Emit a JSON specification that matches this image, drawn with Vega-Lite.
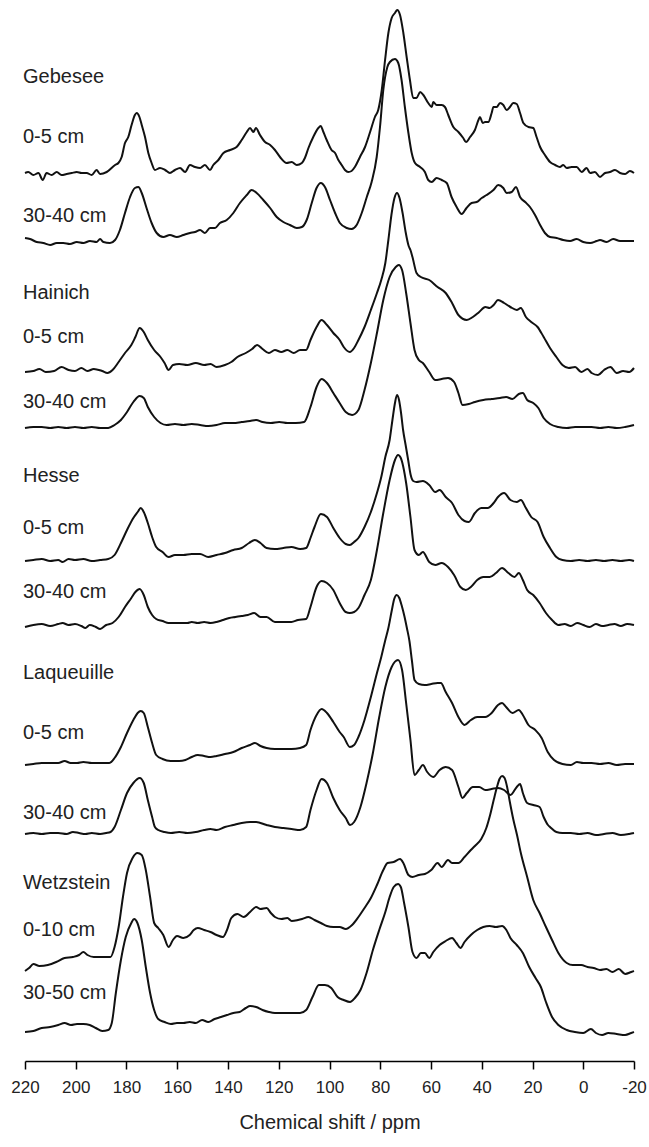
{
"$schema": "https://vega.github.io/schema/vega-lite/v6.json",
"width": 609, "height": 1061,
"autosize": {"type": "none"},
"padding": {"left": 25, "top": 0, "right": 15, "bottom": 86},
"config": {"view": {"stroke": null}, "font": "Liberation Sans"},
"datasets": {
"spectra": [
{"spectrum":"G1","ppm":220,"signal":888},{"spectrum":"G1","ppm":218.7,"signal":889},{"spectrum":"G1","ppm":216.7,"signal":886},{"spectrum":"G1","ppm":214.7,"signal":888},{"spectrum":"G1","ppm":213,"signal":881},{"spectrum":"G1","ppm":211.5,"signal":888},{"spectrum":"G1","ppm":209.5,"signal":886},{"spectrum":"G1","ppm":207.5,"signal":889},{"spectrum":"G1","ppm":205.6,"signal":886},{"spectrum":"G1","ppm":203.6,"signal":887},{"spectrum":"G1","ppm":201.6,"signal":888},{"spectrum":"G1","ppm":199.6,"signal":889},{"spectrum":"G1","ppm":197.7,"signal":888},{"spectrum":"G1","ppm":195.7,"signal":888},{"spectrum":"G1","ppm":193.7,"signal":886},{"spectrum":"G1","ppm":191.8,"signal":891},{"spectrum":"G1","ppm":190.4,"signal":887},{"spectrum":"G1","ppm":187.8,"signal":889},{"spectrum":"G1","ppm":184.5,"signal":896},{"spectrum":"G1","ppm":183.2,"signal":898},{"spectrum":"G1","ppm":181.9,"signal":904},{"spectrum":"G1","ppm":180.6,"signal":918},{"spectrum":"G1","ppm":179.3,"signal":924},{"spectrum":"G1","ppm":178,"signal":936},{"spectrum":"G1","ppm":176.7,"signal":946},{"spectrum":"G1","ppm":176,"signal":948},{"spectrum":"G1","ppm":174.9,"signal":944},{"spectrum":"G1","ppm":174,"signal":936},{"spectrum":"G1","ppm":172.7,"signal":924},{"spectrum":"G1","ppm":171.4,"signal":908},{"spectrum":"G1","ppm":170.1,"signal":898},{"spectrum":"G1","ppm":168.8,"signal":891},{"spectrum":"G1","ppm":166.8,"signal":893},{"spectrum":"G1","ppm":164.8,"signal":891},{"spectrum":"G1","ppm":162.9,"signal":888},{"spectrum":"G1","ppm":160.9,"signal":891},{"spectrum":"G1","ppm":158.9,"signal":893},{"spectrum":"G1","ppm":156.9,"signal":889},{"spectrum":"G1","ppm":155,"signal":896},{"spectrum":"G1","ppm":153,"signal":894},{"spectrum":"G1","ppm":151,"signal":893},{"spectrum":"G1","ppm":149.1,"signal":896},{"spectrum":"G1","ppm":147.1,"signal":891},{"spectrum":"G1","ppm":145.8,"signal":896},{"spectrum":"G1","ppm":143.8,"signal":901},{"spectrum":"G1","ppm":141.8,"signal":908},{"spectrum":"G1","ppm":139.2,"signal":911},{"spectrum":"G1","ppm":136.6,"signal":914},{"spectrum":"G1","ppm":134.6,"signal":921},{"spectrum":"G1","ppm":132.6,"signal":929},{"spectrum":"G1","ppm":131.3,"signal":933},{"spectrum":"G1","ppm":130,"signal":929},{"spectrum":"G1","ppm":129,"signal":933},{"spectrum":"G1","ppm":127.4,"signal":926},{"spectrum":"G1","ppm":125.4,"signal":919},{"spectrum":"G1","ppm":123.4,"signal":916},{"spectrum":"G1","ppm":121.5,"signal":911},{"spectrum":"G1","ppm":119.5,"signal":904},{"spectrum":"G1","ppm":116.9,"signal":898},{"spectrum":"G1","ppm":114.9,"signal":899},{"spectrum":"G1","ppm":112.9,"signal":896},{"spectrum":"G1","ppm":110.9,"signal":898},{"spectrum":"G1","ppm":109.7,"signal":903},{"spectrum":"G1","ppm":108.3,"signal":913},{"spectrum":"G1","ppm":106.4,"signal":924},{"spectrum":"G1","ppm":104.4,"signal":933},{"spectrum":"G1","ppm":103.5,"signal":935},{"spectrum":"G1","ppm":102.4,"signal":929},{"spectrum":"G1","ppm":101.1,"signal":921},{"spectrum":"G1","ppm":99.2,"signal":911},{"spectrum":"G1","ppm":97.8,"signal":908},{"spectrum":"G1","ppm":96.5,"signal":901},{"spectrum":"G1","ppm":95.2,"signal":896},{"spectrum":"G1","ppm":93.9,"signal":891},{"spectrum":"G1","ppm":92.6,"signal":889},{"spectrum":"G1","ppm":91.3,"signal":890},{"spectrum":"G1","ppm":90,"signal":894},{"spectrum":"G1","ppm":88,"signal":904},{"spectrum":"G1","ppm":86,"signal":914},{"spectrum":"G1","ppm":84,"signal":929},{"spectrum":"G1","ppm":82.1,"signal":944},{"spectrum":"G1","ppm":80.8,"signal":951},{"spectrum":"G1","ppm":79.4,"signal":971},{"spectrum":"G1","ppm":78.1,"signal":1001},{"spectrum":"G1","ppm":76.8,"signal":1028},{"spectrum":"G1","ppm":75.5,"signal":1043},{"spectrum":"G1","ppm":74.2,"signal":1048},{"spectrum":"G1","ppm":73.3,"signal":1051},{"spectrum":"G1","ppm":72.2,"signal":1046},{"spectrum":"G1","ppm":70.9,"signal":1028},{"spectrum":"G1","ppm":69.6,"signal":1004},{"spectrum":"G1","ppm":68.3,"signal":981},{"spectrum":"G1","ppm":67,"signal":963},{"spectrum":"G1","ppm":65.7,"signal":963},{"spectrum":"G1","ppm":64.3,"signal":969},{"spectrum":"G1","ppm":63,"signal":966},{"spectrum":"G1","ppm":61.1,"signal":958},{"spectrum":"G1","ppm":59.7,"signal":954},{"spectrum":"G1","ppm":59.1,"signal":959},{"spectrum":"G1","ppm":57.8,"signal":956},{"spectrum":"G1","ppm":55.8,"signal":956},{"spectrum":"G1","ppm":54.5,"signal":954},{"spectrum":"G1","ppm":53.2,"signal":946},{"spectrum":"G1","ppm":51.2,"signal":934},{"spectrum":"G1","ppm":49.2,"signal":929},{"spectrum":"G1","ppm":47.3,"signal":923},{"spectrum":"G1","ppm":46.2,"signal":919},{"spectrum":"G1","ppm":44.6,"signal":924},{"spectrum":"G1","ppm":42.7,"signal":931},{"spectrum":"G1","ppm":41.3,"signal":941},{"spectrum":"G1","ppm":40.7,"signal":944},{"spectrum":"G1","ppm":39.6,"signal":938},{"spectrum":"G1","ppm":38.7,"signal":939},{"spectrum":"G1","ppm":37.4,"signal":939},{"spectrum":"G1","ppm":36.1,"signal":948},{"spectrum":"G1","ppm":35.4,"signal":954},{"spectrum":"G1","ppm":34.1,"signal":954},{"spectrum":"G1","ppm":32.8,"signal":958},{"spectrum":"G1","ppm":31.5,"signal":956},{"spectrum":"G1","ppm":30.2,"signal":951},{"spectrum":"G1","ppm":28.9,"signal":954},{"spectrum":"G1","ppm":27.6,"signal":958},{"spectrum":"G1","ppm":26.2,"signal":957},{"spectrum":"G1","ppm":24.9,"signal":948},{"spectrum":"G1","ppm":23.6,"signal":938},{"spectrum":"G1","ppm":21.6,"signal":934},{"spectrum":"G1","ppm":19.7,"signal":933},{"spectrum":"G1","ppm":18.4,"signal":924},{"spectrum":"G1","ppm":17,"signal":914},{"spectrum":"G1","ppm":15.1,"signal":906},{"spectrum":"G1","ppm":13.1,"signal":899},{"spectrum":"G1","ppm":11.1,"signal":896},{"spectrum":"G1","ppm":9.2,"signal":894},{"spectrum":"G1","ppm":7.9,"signal":896},{"spectrum":"G1","ppm":6.5,"signal":893},{"spectrum":"G1","ppm":4.6,"signal":894},{"spectrum":"G1","ppm":2.6,"signal":894},{"spectrum":"G1","ppm":0.6,"signal":889},{"spectrum":"G1","ppm":-1.3,"signal":893},{"spectrum":"G1","ppm":-2.7,"signal":888},{"spectrum":"G1","ppm":-4.6,"signal":889},{"spectrum":"G1","ppm":-6.6,"signal":884},{"spectrum":"G1","ppm":-8.6,"signal":888},{"spectrum":"G1","ppm":-10.5,"signal":889},{"spectrum":"G1","ppm":-12.5,"signal":891},{"spectrum":"G1","ppm":-14.5,"signal":888},{"spectrum":"G1","ppm":-16.5,"signal":887},{"spectrum":"G1","ppm":-18.4,"signal":890},{"spectrum":"G1","ppm":-20,"signal":888},
{"spectrum":"G2","ppm":220,"signal":823},{"spectrum":"G2","ppm":218,"signal":822},{"spectrum":"G2","ppm":215.4,"signal":819},{"spectrum":"G2","ppm":212.8,"signal":818},{"spectrum":"G2","ppm":210.1,"signal":816},{"spectrum":"G2","ppm":207.5,"signal":818},{"spectrum":"G2","ppm":204.9,"signal":818},{"spectrum":"G2","ppm":202.3,"signal":817},{"spectrum":"G2","ppm":199.6,"signal":819},{"spectrum":"G2","ppm":197,"signal":818},{"spectrum":"G2","ppm":194.4,"signal":820},{"spectrum":"G2","ppm":191.8,"signal":819},{"spectrum":"G2","ppm":190.4,"signal":822},{"spectrum":"G2","ppm":189.1,"signal":819},{"spectrum":"G2","ppm":186.5,"signal":818},{"spectrum":"G2","ppm":184.5,"signal":821},{"spectrum":"G2","ppm":182.6,"signal":831},{"spectrum":"G2","ppm":180.6,"signal":848},{"spectrum":"G2","ppm":178.6,"signal":864},{"spectrum":"G2","ppm":176.7,"signal":873},{"spectrum":"G2","ppm":175.3,"signal":874},{"spectrum":"G2","ppm":174,"signal":868},{"spectrum":"G2","ppm":172.1,"signal":853},{"spectrum":"G2","ppm":170.1,"signal":838},{"spectrum":"G2","ppm":168.1,"signal":828},{"spectrum":"G2","ppm":165.5,"signal":824},{"spectrum":"G2","ppm":162.9,"signal":826},{"spectrum":"G2","ppm":160.2,"signal":824},{"spectrum":"G2","ppm":157.6,"signal":826},{"spectrum":"G2","ppm":155,"signal":828},{"spectrum":"G2","ppm":153,"signal":829},{"spectrum":"G2","ppm":151,"signal":831},{"spectrum":"G2","ppm":149.1,"signal":828},{"spectrum":"G2","ppm":147.1,"signal":833},{"spectrum":"G2","ppm":145.1,"signal":833},{"spectrum":"G2","ppm":143.2,"signal":838},{"spectrum":"G2","ppm":140.5,"signal":841},{"spectrum":"G2","ppm":137.9,"signal":848},{"spectrum":"G2","ppm":135.3,"signal":858},{"spectrum":"G2","ppm":132.6,"signal":866},{"spectrum":"G2","ppm":130.7,"signal":871},{"spectrum":"G2","ppm":128.7,"signal":868},{"spectrum":"G2","ppm":126.1,"signal":861},{"spectrum":"G2","ppm":123.4,"signal":853},{"spectrum":"G2","ppm":120.8,"signal":844},{"spectrum":"G2","ppm":118.2,"signal":839},{"spectrum":"G2","ppm":115.6,"signal":836},{"spectrum":"G2","ppm":112.9,"signal":833},{"spectrum":"G2","ppm":110.9,"signal":834},{"spectrum":"G2","ppm":109,"signal":841},{"spectrum":"G2","ppm":107,"signal":858},{"spectrum":"G2","ppm":105.1,"signal":873},{"spectrum":"G2","ppm":103.4,"signal":878},{"spectrum":"G2","ppm":101.8,"signal":874},{"spectrum":"G2","ppm":99.8,"signal":861},{"spectrum":"G2","ppm":97.8,"signal":848},{"spectrum":"G2","ppm":95.9,"signal":838},{"spectrum":"G2","ppm":93.2,"signal":833},{"spectrum":"G2","ppm":91.3,"signal":832},{"spectrum":"G2","ppm":89.3,"signal":836},{"spectrum":"G2","ppm":87.3,"signal":848},{"spectrum":"G2","ppm":85.3,"signal":864},{"spectrum":"G2","ppm":83.4,"signal":879},{"spectrum":"G2","ppm":81.4,"signal":904},{"spectrum":"G2","ppm":80.1,"signal":934},{"spectrum":"G2","ppm":78.8,"signal":971},{"spectrum":"G2","ppm":77.2,"signal":994},{"spectrum":"G2","ppm":76.2,"signal":999},{"spectrum":"G2","ppm":74.2,"signal":1002},{"spectrum":"G2","ppm":72.9,"signal":998},{"spectrum":"G2","ppm":71.6,"signal":981},{"spectrum":"G2","ppm":70.3,"signal":954},{"spectrum":"G2","ppm":68.9,"signal":928},{"spectrum":"G2","ppm":67.6,"signal":908},{"spectrum":"G2","ppm":66.3,"signal":898},{"spectrum":"G2","ppm":64.3,"signal":894},{"spectrum":"G2","ppm":62.4,"signal":889},{"spectrum":"G2","ppm":61.1,"signal":881},{"spectrum":"G2","ppm":59.7,"signal":879},{"spectrum":"G2","ppm":57.8,"signal":883},{"spectrum":"G2","ppm":55.8,"signal":881},{"spectrum":"G2","ppm":53.8,"signal":878},{"spectrum":"G2","ppm":51.9,"signal":864},{"spectrum":"G2","ppm":49.9,"signal":854},{"spectrum":"G2","ppm":47.9,"signal":847},{"spectrum":"G2","ppm":46,"signal":853},{"spectrum":"G2","ppm":44,"signal":858},{"spectrum":"G2","ppm":42,"signal":859},{"spectrum":"G2","ppm":40,"signal":863},{"spectrum":"G2","ppm":38.1,"signal":866},{"spectrum":"G2","ppm":35.4,"signal":871},{"spectrum":"G2","ppm":33.5,"signal":876},{"spectrum":"G2","ppm":31.5,"signal":873},{"spectrum":"G2","ppm":30.2,"signal":868},{"spectrum":"G2","ppm":28.2,"signal":869},{"spectrum":"G2","ppm":26.5,"signal":874},{"spectrum":"G2","ppm":24.9,"signal":864},{"spectrum":"G2","ppm":22.9,"signal":859},{"spectrum":"G2","ppm":21,"signal":854},{"spectrum":"G2","ppm":19,"signal":846},{"spectrum":"G2","ppm":17,"signal":836},{"spectrum":"G2","ppm":15.1,"signal":828},{"spectrum":"G2","ppm":13.1,"signal":824},{"spectrum":"G2","ppm":10.5,"signal":823},{"spectrum":"G2","ppm":7.9,"signal":821},{"spectrum":"G2","ppm":5.2,"signal":820},{"spectrum":"G2","ppm":2.6,"signal":822},{"spectrum":"G2","ppm":0,"signal":819},{"spectrum":"G2","ppm":-2.7,"signal":818},{"spectrum":"G2","ppm":-5.3,"signal":820},{"spectrum":"G2","ppm":-6.6,"signal":821},{"spectrum":"G2","ppm":-9.2,"signal":819},{"spectrum":"G2","ppm":-11.8,"signal":822},{"spectrum":"G2","ppm":-14.5,"signal":820},{"spectrum":"G2","ppm":-17.1,"signal":820},{"spectrum":"G2","ppm":-20,"signal":820},
{"spectrum":"H1","ppm":220,"signal":689},{"spectrum":"H1","ppm":216.7,"signal":690},{"spectrum":"H1","ppm":214.3,"signal":692},{"spectrum":"H1","ppm":211.8,"signal":689},{"spectrum":"H1","ppm":208.5,"signal":690},{"spectrum":"H1","ppm":205.6,"signal":694},{"spectrum":"H1","ppm":202.8,"signal":691},{"spectrum":"H1","ppm":200.3,"signal":690},{"spectrum":"H1","ppm":197.8,"signal":693},{"spectrum":"H1","ppm":195.4,"signal":690},{"spectrum":"H1","ppm":192.9,"signal":692},{"spectrum":"H1","ppm":189.6,"signal":690},{"spectrum":"H1","ppm":187.5,"signal":688},{"spectrum":"H1","ppm":185.5,"signal":691},{"spectrum":"H1","ppm":183.1,"signal":699},{"spectrum":"H1","ppm":180.6,"signal":708},{"spectrum":"H1","ppm":178.1,"signal":716},{"spectrum":"H1","ppm":176.5,"signal":724},{"spectrum":"H1","ppm":174.8,"signal":733},{"spectrum":"H1","ppm":173.2,"signal":729},{"spectrum":"H1","ppm":171.6,"signal":721},{"spectrum":"H1","ppm":169.1,"signal":711},{"spectrum":"H1","ppm":166.6,"signal":704},{"spectrum":"H1","ppm":165,"signal":698},{"spectrum":"H1","ppm":163.4,"signal":691},{"spectrum":"H1","ppm":161.7,"signal":696},{"spectrum":"H1","ppm":159.2,"signal":697},{"spectrum":"H1","ppm":156,"signal":696},{"spectrum":"H1","ppm":152.7,"signal":698},{"spectrum":"H1","ppm":149.4,"signal":696},{"spectrum":"H1","ppm":146.9,"signal":697},{"spectrum":"H1","ppm":144.5,"signal":694},{"spectrum":"H1","ppm":141.2,"signal":696},{"spectrum":"H1","ppm":138.7,"signal":699},{"spectrum":"H1","ppm":136.3,"signal":704},{"spectrum":"H1","ppm":133,"signal":708},{"spectrum":"H1","ppm":130.5,"signal":712},{"spectrum":"H1","ppm":128.5,"signal":716},{"spectrum":"H1","ppm":126.4,"signal":712},{"spectrum":"H1","ppm":123.9,"signal":708},{"spectrum":"H1","ppm":121.5,"signal":711},{"spectrum":"H1","ppm":119,"signal":709},{"spectrum":"H1","ppm":116.6,"signal":711},{"spectrum":"H1","ppm":114.1,"signal":708},{"spectrum":"H1","ppm":111.6,"signal":711},{"spectrum":"H1","ppm":109.2,"signal":711},{"spectrum":"H1","ppm":107.5,"signal":721},{"spectrum":"H1","ppm":105.1,"signal":734},{"spectrum":"H1","ppm":103.1,"signal":741},{"spectrum":"H1","ppm":101,"signal":736},{"spectrum":"H1","ppm":98.5,"signal":728},{"spectrum":"H1","ppm":96,"signal":721},{"spectrum":"H1","ppm":94.4,"signal":714},{"spectrum":"H1","ppm":92,"signal":709},{"spectrum":"H1","ppm":90.3,"signal":713},{"spectrum":"H1","ppm":88.6,"signal":721},{"spectrum":"H1","ppm":86.2,"signal":734},{"spectrum":"H1","ppm":83.7,"signal":751},{"spectrum":"H1","ppm":81.3,"signal":768},{"spectrum":"H1","ppm":79.6,"signal":781},{"spectrum":"H1","ppm":78,"signal":798},{"spectrum":"H1","ppm":76.8,"signal":821},{"spectrum":"H1","ppm":75.6,"signal":846},{"spectrum":"H1","ppm":74.4,"signal":863},{"spectrum":"H1","ppm":73.4,"signal":868},{"spectrum":"H1","ppm":72.4,"signal":863},{"spectrum":"H1","ppm":71.2,"signal":848},{"spectrum":"H1","ppm":70,"signal":829},{"spectrum":"H1","ppm":68.8,"signal":815},{"spectrum":"H1","ppm":68.1,"signal":811},{"spectrum":"H1","ppm":67.3,"signal":804},{"spectrum":"H1","ppm":65.7,"signal":788},{"spectrum":"H1","ppm":64,"signal":784},{"spectrum":"H1","ppm":60.7,"signal":781},{"spectrum":"H1","ppm":57.4,"signal":774},{"spectrum":"H1","ppm":54.2,"signal":768},{"spectrum":"H1","ppm":51.7,"signal":758},{"spectrum":"H1","ppm":49.2,"signal":746},{"spectrum":"H1","ppm":45.9,"signal":741},{"spectrum":"H1","ppm":43.5,"signal":744},{"spectrum":"H1","ppm":41,"signal":749},{"spectrum":"H1","ppm":38.6,"signal":754},{"spectrum":"H1","ppm":36.9,"signal":753},{"spectrum":"H1","ppm":35.3,"signal":756},{"spectrum":"H1","ppm":33.6,"signal":761},{"spectrum":"H1","ppm":31.2,"signal":758},{"spectrum":"H1","ppm":28.7,"signal":754},{"spectrum":"H1","ppm":26.2,"signal":751},{"spectrum":"H1","ppm":24.6,"signal":753},{"spectrum":"H1","ppm":22.6,"signal":744},{"spectrum":"H1","ppm":20.5,"signal":739},{"spectrum":"H1","ppm":18,"signal":734},{"spectrum":"H1","ppm":15.6,"signal":724},{"spectrum":"H1","ppm":13.1,"signal":713},{"spectrum":"H1","ppm":10.6,"signal":704},{"spectrum":"H1","ppm":8.2,"signal":696},{"spectrum":"H1","ppm":5.7,"signal":693},{"spectrum":"H1","ppm":3.2,"signal":694},{"spectrum":"H1","ppm":0.8,"signal":689},{"spectrum":"H1","ppm":-1.7,"signal":692},{"spectrum":"H1","ppm":-3.3,"signal":688},{"spectrum":"H1","ppm":-5.8,"signal":686},{"spectrum":"H1","ppm":-8.2,"signal":691},{"spectrum":"H1","ppm":-10.7,"signal":694},{"spectrum":"H1","ppm":-13.2,"signal":688},{"spectrum":"H1","ppm":-15.7,"signal":690},{"spectrum":"H1","ppm":-18.1,"signal":689},{"spectrum":"H1","ppm":-20,"signal":693},
{"spectrum":"H2","ppm":220,"signal":633},{"spectrum":"H2","ppm":216.7,"signal":634},{"spectrum":"H2","ppm":213.4,"signal":634},{"spectrum":"H2","ppm":210.1,"signal":633},{"spectrum":"H2","ppm":206.9,"signal":634},{"spectrum":"H2","ppm":203.6,"signal":633},{"spectrum":"H2","ppm":200.3,"signal":634},{"spectrum":"H2","ppm":197,"signal":633},{"spectrum":"H2","ppm":193.7,"signal":634},{"spectrum":"H2","ppm":190.4,"signal":633},{"spectrum":"H2","ppm":187.2,"signal":633},{"spectrum":"H2","ppm":184.7,"signal":636},{"spectrum":"H2","ppm":182.2,"signal":641},{"spectrum":"H2","ppm":179.8,"signal":649},{"spectrum":"H2","ppm":177.3,"signal":659},{"spectrum":"H2","ppm":174.8,"signal":665},{"spectrum":"H2","ppm":173.2,"signal":663},{"spectrum":"H2","ppm":171.6,"signal":654},{"spectrum":"H2","ppm":169.1,"signal":644},{"spectrum":"H2","ppm":166.6,"signal":638},{"spectrum":"H2","ppm":164.2,"signal":636},{"spectrum":"H2","ppm":160.9,"signal":637},{"spectrum":"H2","ppm":157.6,"signal":636},{"spectrum":"H2","ppm":154.3,"signal":637},{"spectrum":"H2","ppm":151,"signal":636},{"spectrum":"H2","ppm":147.8,"signal":635},{"spectrum":"H2","ppm":144.5,"signal":636},{"spectrum":"H2","ppm":141.2,"signal":638},{"spectrum":"H2","ppm":137.9,"signal":638},{"spectrum":"H2","ppm":134.6,"signal":639},{"spectrum":"H2","ppm":131.3,"signal":640},{"spectrum":"H2","ppm":128.9,"signal":641},{"spectrum":"H2","ppm":126.4,"signal":639},{"spectrum":"H2","ppm":123.1,"signal":638},{"spectrum":"H2","ppm":119.8,"signal":639},{"spectrum":"H2","ppm":116.6,"signal":638},{"spectrum":"H2","ppm":113.3,"signal":638},{"spectrum":"H2","ppm":110,"signal":639},{"spectrum":"H2","ppm":107.5,"signal":654},{"spectrum":"H2","ppm":105.1,"signal":674},{"spectrum":"H2","ppm":103.1,"signal":682},{"spectrum":"H2","ppm":101,"signal":678},{"spectrum":"H2","ppm":98.5,"signal":668},{"spectrum":"H2","ppm":96,"signal":658},{"spectrum":"H2","ppm":93.6,"signal":649},{"spectrum":"H2","ppm":91.1,"signal":646},{"spectrum":"H2","ppm":88.6,"signal":651},{"spectrum":"H2","ppm":86.2,"signal":671},{"spectrum":"H2","ppm":83.7,"signal":698},{"spectrum":"H2","ppm":81.3,"signal":728},{"spectrum":"H2","ppm":78.8,"signal":761},{"spectrum":"H2","ppm":76.3,"signal":784},{"spectrum":"H2","ppm":73.9,"signal":794},{"spectrum":"H2","ppm":72.7,"signal":796},{"spectrum":"H2","ppm":71.4,"signal":791},{"spectrum":"H2","ppm":69.8,"signal":768},{"spectrum":"H2","ppm":68.1,"signal":738},{"spectrum":"H2","ppm":66.5,"signal":711},{"spectrum":"H2","ppm":64.8,"signal":701},{"spectrum":"H2","ppm":63.2,"signal":698},{"spectrum":"H2","ppm":60.7,"signal":689},{"spectrum":"H2","ppm":58.3,"signal":681},{"spectrum":"H2","ppm":55.8,"signal":682},{"spectrum":"H2","ppm":53.3,"signal":683},{"spectrum":"H2","ppm":50.9,"signal":679},{"spectrum":"H2","ppm":49.2,"signal":668},{"spectrum":"H2","ppm":47.6,"signal":656},{"spectrum":"H2","ppm":45.1,"signal":657},{"spectrum":"H2","ppm":42.7,"signal":659},{"spectrum":"H2","ppm":39.4,"signal":661},{"spectrum":"H2","ppm":36.1,"signal":662},{"spectrum":"H2","ppm":32.8,"signal":663},{"spectrum":"H2","ppm":30.4,"signal":664},{"spectrum":"H2","ppm":27.9,"signal":662},{"spectrum":"H2","ppm":25.4,"signal":667},{"spectrum":"H2","ppm":23.8,"signal":668},{"spectrum":"H2","ppm":22.1,"signal":661},{"spectrum":"H2","ppm":19.7,"signal":658},{"spectrum":"H2","ppm":17.7,"signal":653},{"spectrum":"H2","ppm":15.6,"signal":643},{"spectrum":"H2","ppm":13.1,"signal":637},{"spectrum":"H2","ppm":9.8,"signal":634},{"spectrum":"H2","ppm":6.5,"signal":633},{"spectrum":"H2","ppm":3.2,"signal":634},{"spectrum":"H2","ppm":0,"signal":634},{"spectrum":"H2","ppm":-3.3,"signal":634},{"spectrum":"H2","ppm":-6.6,"signal":633},{"spectrum":"H2","ppm":-9.9,"signal":634},{"spectrum":"H2","ppm":-13.2,"signal":633},{"spectrum":"H2","ppm":-16.5,"signal":634},{"spectrum":"H2","ppm":-20,"signal":636},
{"spectrum":"E1","ppm":220,"signal":500},{"spectrum":"E1","ppm":216.7,"signal":501},{"spectrum":"E1","ppm":213.4,"signal":502},{"spectrum":"E1","ppm":210.1,"signal":500},{"spectrum":"E1","ppm":206.9,"signal":501},{"spectrum":"E1","ppm":205.2,"signal":499},{"spectrum":"E1","ppm":202.8,"signal":502},{"spectrum":"E1","ppm":200.3,"signal":501},{"spectrum":"E1","ppm":197,"signal":502},{"spectrum":"E1","ppm":193.7,"signal":500},{"spectrum":"E1","ppm":190.4,"signal":501},{"spectrum":"E1","ppm":187.2,"signal":502},{"spectrum":"E1","ppm":184.7,"signal":506},{"spectrum":"E1","ppm":182.2,"signal":518},{"spectrum":"E1","ppm":179.8,"signal":531},{"spectrum":"E1","ppm":177.3,"signal":543},{"spectrum":"E1","ppm":175.6,"signal":549},{"spectrum":"E1","ppm":174.4,"signal":553},{"spectrum":"E1","ppm":173.2,"signal":549},{"spectrum":"E1","ppm":171.6,"signal":538},{"spectrum":"E1","ppm":169.9,"signal":524},{"spectrum":"E1","ppm":168.3,"signal":514},{"spectrum":"E1","ppm":165.8,"signal":509},{"spectrum":"E1","ppm":163.4,"signal":504},{"spectrum":"E1","ppm":160.9,"signal":506},{"spectrum":"E1","ppm":157.6,"signal":506},{"spectrum":"E1","ppm":154.3,"signal":507},{"spectrum":"E1","ppm":151,"signal":507},{"spectrum":"E1","ppm":147.8,"signal":504},{"spectrum":"E1","ppm":144.5,"signal":506},{"spectrum":"E1","ppm":141.2,"signal":508},{"spectrum":"E1","ppm":137.9,"signal":511},{"spectrum":"E1","ppm":134.6,"signal":513},{"spectrum":"E1","ppm":131.7,"signal":518},{"spectrum":"E1","ppm":129.4,"signal":521},{"spectrum":"E1","ppm":127.2,"signal":518},{"spectrum":"E1","ppm":124.8,"signal":513},{"spectrum":"E1","ppm":121.5,"signal":512},{"spectrum":"E1","ppm":118.2,"signal":513},{"spectrum":"E1","ppm":115,"signal":514},{"spectrum":"E1","ppm":111.6,"signal":512},{"spectrum":"E1","ppm":109.2,"signal":513},{"spectrum":"E1","ppm":107.5,"signal":523},{"spectrum":"E1","ppm":105.9,"signal":534},{"spectrum":"E1","ppm":103.4,"signal":547},{"spectrum":"E1","ppm":101,"signal":544},{"spectrum":"E1","ppm":98.5,"signal":533},{"spectrum":"E1","ppm":96,"signal":523},{"spectrum":"E1","ppm":93.6,"signal":517},{"spectrum":"E1","ppm":92,"signal":516},{"spectrum":"E1","ppm":90.3,"signal":519},{"spectrum":"E1","ppm":88.6,"signal":523},{"spectrum":"E1","ppm":86.2,"signal":534},{"spectrum":"E1","ppm":83.7,"signal":549},{"spectrum":"E1","ppm":81.3,"signal":568},{"spectrum":"E1","ppm":79.6,"signal":584},{"spectrum":"E1","ppm":78,"signal":604},{"spectrum":"E1","ppm":76.3,"signal":621},{"spectrum":"E1","ppm":75.2,"signal":641},{"spectrum":"E1","ppm":74.2,"signal":658},{"spectrum":"E1","ppm":73.4,"signal":666},{"spectrum":"E1","ppm":72.6,"signal":661},{"spectrum":"E1","ppm":71.8,"signal":648},{"spectrum":"E1","ppm":71,"signal":631},{"spectrum":"E1","ppm":70,"signal":616},{"spectrum":"E1","ppm":69,"signal":601},{"spectrum":"E1","ppm":68,"signal":586},{"spectrum":"E1","ppm":67,"signal":580},{"spectrum":"E1","ppm":65.7,"signal":579},{"spectrum":"E1","ppm":63.2,"signal":580},{"spectrum":"E1","ppm":60.7,"signal":576},{"spectrum":"E1","ppm":58.3,"signal":569},{"spectrum":"E1","ppm":56.6,"signal":571},{"spectrum":"E1","ppm":54.2,"signal":564},{"spectrum":"E1","ppm":51.7,"signal":558},{"spectrum":"E1","ppm":49.2,"signal":546},{"spectrum":"E1","ppm":46.8,"signal":540},{"spectrum":"E1","ppm":45.1,"signal":539},{"spectrum":"E1","ppm":42.7,"signal":548},{"spectrum":"E1","ppm":40.2,"signal":553},{"spectrum":"E1","ppm":37.7,"signal":553},{"spectrum":"E1","ppm":35.3,"signal":558},{"spectrum":"E1","ppm":33.6,"signal":564},{"spectrum":"E1","ppm":31.2,"signal":568},{"spectrum":"E1","ppm":28.7,"signal":561},{"spectrum":"E1","ppm":26.2,"signal":559},{"spectrum":"E1","ppm":24.6,"signal":561},{"spectrum":"E1","ppm":22.6,"signal":553},{"spectrum":"E1","ppm":20.5,"signal":544},{"spectrum":"E1","ppm":18,"signal":539},{"spectrum":"E1","ppm":15.6,"signal":524},{"spectrum":"E1","ppm":13.1,"signal":513},{"spectrum":"E1","ppm":10.6,"signal":504},{"spectrum":"E1","ppm":8.2,"signal":501},{"spectrum":"E1","ppm":4.9,"signal":500},{"spectrum":"E1","ppm":1.6,"signal":501},{"spectrum":"E1","ppm":-1.7,"signal":500},{"spectrum":"E1","ppm":-5,"signal":501},{"spectrum":"E1","ppm":-8.2,"signal":500},{"spectrum":"E1","ppm":-11.5,"signal":501},{"spectrum":"E1","ppm":-14.8,"signal":500},{"spectrum":"E1","ppm":-18.1,"signal":501},{"spectrum":"E1","ppm":-20,"signal":500},
{"spectrum":"E2","ppm":220,"signal":434},{"spectrum":"E2","ppm":216.7,"signal":436},{"spectrum":"E2","ppm":213.4,"signal":437},{"spectrum":"E2","ppm":210.1,"signal":435},{"spectrum":"E2","ppm":206.9,"signal":437},{"spectrum":"E2","ppm":205.2,"signal":438},{"spectrum":"E2","ppm":202.8,"signal":436},{"spectrum":"E2","ppm":200.3,"signal":437},{"spectrum":"E2","ppm":197.8,"signal":435},{"spectrum":"E2","ppm":196.2,"signal":433},{"spectrum":"E2","ppm":194.5,"signal":436},{"spectrum":"E2","ppm":192.1,"signal":434},{"spectrum":"E2","ppm":190.4,"signal":432},{"spectrum":"E2","ppm":188,"signal":436},{"spectrum":"E2","ppm":185.5,"signal":438},{"spectrum":"E2","ppm":183.1,"signal":444},{"spectrum":"E2","ppm":180.6,"signal":454},{"spectrum":"E2","ppm":178.1,"signal":463},{"spectrum":"E2","ppm":176.5,"signal":469},{"spectrum":"E2","ppm":174.8,"signal":472},{"spectrum":"E2","ppm":173.2,"signal":466},{"spectrum":"E2","ppm":171.6,"signal":454},{"spectrum":"E2","ppm":169.9,"signal":446},{"spectrum":"E2","ppm":168.3,"signal":442},{"spectrum":"E2","ppm":165.8,"signal":440},{"spectrum":"E2","ppm":163.4,"signal":438},{"spectrum":"E2","ppm":160.9,"signal":438},{"spectrum":"E2","ppm":158.4,"signal":438},{"spectrum":"E2","ppm":156,"signal":438},{"spectrum":"E2","ppm":154.3,"signal":439},{"spectrum":"E2","ppm":151.9,"signal":438},{"spectrum":"E2","ppm":149.4,"signal":439},{"spectrum":"E2","ppm":146.9,"signal":438},{"spectrum":"E2","ppm":144.5,"signal":439},{"spectrum":"E2","ppm":142,"signal":441},{"spectrum":"E2","ppm":139.5,"signal":443},{"spectrum":"E2","ppm":137.1,"signal":444},{"spectrum":"E2","ppm":134.6,"signal":445},{"spectrum":"E2","ppm":132.2,"signal":446},{"spectrum":"E2","ppm":129.7,"signal":448},{"spectrum":"E2","ppm":127.2,"signal":444},{"spectrum":"E2","ppm":124.8,"signal":444},{"spectrum":"E2","ppm":121.5,"signal":439},{"spectrum":"E2","ppm":118.2,"signal":439},{"spectrum":"E2","ppm":115,"signal":439},{"spectrum":"E2","ppm":112.4,"signal":441},{"spectrum":"E2","ppm":109.2,"signal":442},{"spectrum":"E2","ppm":107.5,"signal":454},{"spectrum":"E2","ppm":105.1,"signal":474},{"spectrum":"E2","ppm":103.1,"signal":480},{"spectrum":"E2","ppm":101,"signal":478},{"spectrum":"E2","ppm":98.5,"signal":471},{"spectrum":"E2","ppm":96,"signal":458},{"spectrum":"E2","ppm":93.6,"signal":449},{"spectrum":"E2","ppm":92,"signal":448},{"spectrum":"E2","ppm":90.3,"signal":449},{"spectrum":"E2","ppm":88.6,"signal":453},{"spectrum":"E2","ppm":86.2,"signal":466},{"spectrum":"E2","ppm":83.7,"signal":481},{"spectrum":"E2","ppm":81.3,"signal":511},{"spectrum":"E2","ppm":78.8,"signal":548},{"spectrum":"E2","ppm":76.3,"signal":581},{"spectrum":"E2","ppm":74.2,"signal":601},{"spectrum":"E2","ppm":73,"signal":606},{"spectrum":"E2","ppm":71.9,"signal":603},{"spectrum":"E2","ppm":69.8,"signal":578},{"spectrum":"E2","ppm":68.1,"signal":544},{"spectrum":"E2","ppm":66.5,"signal":511},{"spectrum":"E2","ppm":64.8,"signal":506},{"spectrum":"E2","ppm":63.2,"signal":509},{"spectrum":"E2","ppm":60.7,"signal":499},{"spectrum":"E2","ppm":58.3,"signal":496},{"spectrum":"E2","ppm":55.8,"signal":498},{"spectrum":"E2","ppm":53.3,"signal":494},{"spectrum":"E2","ppm":50.9,"signal":486},{"spectrum":"E2","ppm":48.4,"signal":474},{"spectrum":"E2","ppm":46.3,"signal":471},{"spectrum":"E2","ppm":44.3,"signal":474},{"spectrum":"E2","ppm":41.8,"signal":481},{"spectrum":"E2","ppm":39.4,"signal":484},{"spectrum":"E2","ppm":36.9,"signal":484},{"spectrum":"E2","ppm":34.4,"signal":488},{"spectrum":"E2","ppm":32,"signal":493},{"spectrum":"E2","ppm":29.5,"signal":488},{"spectrum":"E2","ppm":27.1,"signal":484},{"spectrum":"E2","ppm":25.4,"signal":488},{"spectrum":"E2","ppm":23.8,"signal":481},{"spectrum":"E2","ppm":22.1,"signal":471},{"spectrum":"E2","ppm":19.7,"signal":466},{"spectrum":"E2","ppm":17.2,"signal":458},{"spectrum":"E2","ppm":14.7,"signal":448},{"spectrum":"E2","ppm":12.3,"signal":441},{"spectrum":"E2","ppm":9.8,"signal":436},{"spectrum":"E2","ppm":7.4,"signal":437},{"spectrum":"E2","ppm":4.9,"signal":435},{"spectrum":"E2","ppm":2.4,"signal":438},{"spectrum":"E2","ppm":0,"signal":436},{"spectrum":"E2","ppm":-2.5,"signal":434},{"spectrum":"E2","ppm":-5,"signal":437},{"spectrum":"E2","ppm":-7.4,"signal":435},{"spectrum":"E2","ppm":-9.9,"signal":436},{"spectrum":"E2","ppm":-12.3,"signal":437},{"spectrum":"E2","ppm":-14.8,"signal":435},{"spectrum":"E2","ppm":-17.3,"signal":437},{"spectrum":"E2","ppm":-20,"signal":436},
{"spectrum":"L1","ppm":220,"signal":296},{"spectrum":"L1","ppm":216.7,"signal":297},{"spectrum":"L1","ppm":213.4,"signal":298},{"spectrum":"L1","ppm":210.1,"signal":298},{"spectrum":"L1","ppm":206.9,"signal":298},{"spectrum":"L1","ppm":204.4,"signal":300},{"spectrum":"L1","ppm":202,"signal":298},{"spectrum":"L1","ppm":199.5,"signal":298},{"spectrum":"L1","ppm":197,"signal":299},{"spectrum":"L1","ppm":193.7,"signal":298},{"spectrum":"L1","ppm":190.4,"signal":298},{"spectrum":"L1","ppm":186.8,"signal":298},{"spectrum":"L1","ppm":184.7,"signal":303},{"spectrum":"L1","ppm":182.2,"signal":314},{"spectrum":"L1","ppm":179.8,"signal":328},{"spectrum":"L1","ppm":177.3,"signal":341},{"spectrum":"L1","ppm":175.6,"signal":348},{"spectrum":"L1","ppm":174.4,"signal":350},{"spectrum":"L1","ppm":173.2,"signal":348},{"spectrum":"L1","ppm":171.6,"signal":334},{"spectrum":"L1","ppm":169.9,"signal":318},{"spectrum":"L1","ppm":168.3,"signal":306},{"spectrum":"L1","ppm":165.8,"signal":302},{"spectrum":"L1","ppm":162.6,"signal":300},{"spectrum":"L1","ppm":159.3,"signal":300},{"spectrum":"L1","ppm":156.8,"signal":301},{"spectrum":"L1","ppm":154.3,"signal":304},{"spectrum":"L1","ppm":151.9,"signal":306},{"spectrum":"L1","ppm":149.4,"signal":305},{"spectrum":"L1","ppm":146.9,"signal":304},{"spectrum":"L1","ppm":144.5,"signal":305},{"spectrum":"L1","ppm":141.2,"signal":307},{"spectrum":"L1","ppm":137.9,"signal":309},{"spectrum":"L1","ppm":134.6,"signal":313},{"spectrum":"L1","ppm":131.3,"signal":316},{"spectrum":"L1","ppm":129.4,"signal":318},{"spectrum":"L1","ppm":127.2,"signal":315},{"spectrum":"L1","ppm":124.8,"signal":313},{"spectrum":"L1","ppm":121.5,"signal":312},{"spectrum":"L1","ppm":118.2,"signal":312},{"spectrum":"L1","ppm":115,"signal":312},{"spectrum":"L1","ppm":111.6,"signal":313},{"spectrum":"L1","ppm":109.2,"signal":316},{"spectrum":"L1","ppm":107.5,"signal":331},{"spectrum":"L1","ppm":105.1,"signal":346},{"spectrum":"L1","ppm":103.1,"signal":352},{"spectrum":"L1","ppm":101,"signal":348},{"spectrum":"L1","ppm":98.5,"signal":339},{"spectrum":"L1","ppm":96,"signal":329},{"spectrum":"L1","ppm":94.4,"signal":324},{"spectrum":"L1","ppm":92,"signal":314},{"spectrum":"L1","ppm":90.3,"signal":316},{"spectrum":"L1","ppm":88.6,"signal":324},{"spectrum":"L1","ppm":86.2,"signal":341},{"spectrum":"L1","ppm":83.7,"signal":364},{"spectrum":"L1","ppm":81.3,"signal":388},{"spectrum":"L1","ppm":79.6,"signal":404},{"spectrum":"L1","ppm":78,"signal":421},{"spectrum":"L1","ppm":76.8,"signal":433},{"spectrum":"L1","ppm":75.5,"signal":450},{"spectrum":"L1","ppm":74.5,"signal":462},{"spectrum":"L1","ppm":73.5,"signal":466},{"spectrum":"L1","ppm":72.5,"signal":463},{"spectrum":"L1","ppm":71.5,"signal":455},{"spectrum":"L1","ppm":70.5,"signal":445},{"spectrum":"L1","ppm":69.5,"signal":433},{"spectrum":"L1","ppm":68.5,"signal":420},{"spectrum":"L1","ppm":67.5,"signal":400},{"spectrum":"L1","ppm":66.5,"signal":381},{"spectrum":"L1","ppm":64.8,"signal":377},{"spectrum":"L1","ppm":62.4,"signal":376},{"spectrum":"L1","ppm":59.9,"signal":377},{"spectrum":"L1","ppm":57.4,"signal":378},{"spectrum":"L1","ppm":56.1,"signal":378},{"spectrum":"L1","ppm":54.2,"signal":369},{"spectrum":"L1","ppm":51.7,"signal":358},{"spectrum":"L1","ppm":49.2,"signal":344},{"spectrum":"L1","ppm":46.8,"signal":336},{"spectrum":"L1","ppm":44.3,"signal":341},{"spectrum":"L1","ppm":41.8,"signal":344},{"spectrum":"L1","ppm":38.6,"signal":344},{"spectrum":"L1","ppm":36.1,"signal":348},{"spectrum":"L1","ppm":33.6,"signal":356},{"spectrum":"L1","ppm":32,"signal":358},{"spectrum":"L1","ppm":30.4,"signal":354},{"spectrum":"L1","ppm":27.9,"signal":348},{"spectrum":"L1","ppm":25.4,"signal":351},{"spectrum":"L1","ppm":23.8,"signal":346},{"spectrum":"L1","ppm":21.6,"signal":336},{"spectrum":"L1","ppm":18.9,"signal":331},{"spectrum":"L1","ppm":16.4,"signal":323},{"spectrum":"L1","ppm":14,"signal":309},{"spectrum":"L1","ppm":11.5,"signal":301},{"spectrum":"L1","ppm":8.2,"signal":297},{"spectrum":"L1","ppm":4.9,"signal":296},{"spectrum":"L1","ppm":2.5,"signal":299},{"spectrum":"L1","ppm":0,"signal":298},{"spectrum":"L1","ppm":-3.3,"signal":298},{"spectrum":"L1","ppm":-6.6,"signal":297},{"spectrum":"L1","ppm":-9.9,"signal":298},{"spectrum":"L1","ppm":-13.2,"signal":296},{"spectrum":"L1","ppm":-16.5,"signal":297},{"spectrum":"L1","ppm":-20,"signal":297},
{"spectrum":"L2","ppm":220,"signal":227},{"spectrum":"L2","ppm":216.7,"signal":228},{"spectrum":"L2","ppm":213.4,"signal":227},{"spectrum":"L2","ppm":210.1,"signal":228},{"spectrum":"L2","ppm":206.9,"signal":228},{"spectrum":"L2","ppm":203.6,"signal":227},{"spectrum":"L2","ppm":201.1,"signal":229},{"spectrum":"L2","ppm":198.7,"signal":228},{"spectrum":"L2","ppm":196.2,"signal":227},{"spectrum":"L2","ppm":193.7,"signal":228},{"spectrum":"L2","ppm":190.4,"signal":227},{"spectrum":"L2","ppm":188,"signal":228},{"spectrum":"L2","ppm":186.3,"signal":229},{"spectrum":"L2","ppm":184.7,"signal":234},{"spectrum":"L2","ppm":182.2,"signal":251},{"spectrum":"L2","ppm":179.8,"signal":268},{"spectrum":"L2","ppm":177.3,"signal":278},{"spectrum":"L2","ppm":174.8,"signal":283},{"spectrum":"L2","ppm":173.2,"signal":278},{"spectrum":"L2","ppm":171.6,"signal":261},{"spectrum":"L2","ppm":169.9,"signal":244},{"spectrum":"L2","ppm":168.8,"signal":234},{"spectrum":"L2","ppm":167.5,"signal":231},{"spectrum":"L2","ppm":165,"signal":229},{"spectrum":"L2","ppm":162.5,"signal":228},{"spectrum":"L2","ppm":159.2,"signal":229},{"spectrum":"L2","ppm":156,"signal":228},{"spectrum":"L2","ppm":152.7,"signal":229},{"spectrum":"L2","ppm":149.4,"signal":231},{"spectrum":"L2","ppm":146.9,"signal":232},{"spectrum":"L2","ppm":144.5,"signal":231},{"spectrum":"L2","ppm":141.2,"signal":234},{"spectrum":"L2","ppm":137.9,"signal":236},{"spectrum":"L2","ppm":134.6,"signal":238},{"spectrum":"L2","ppm":131.3,"signal":239},{"spectrum":"L2","ppm":128.9,"signal":239},{"spectrum":"L2","ppm":124.8,"signal":236},{"spectrum":"L2","ppm":121.5,"signal":234},{"spectrum":"L2","ppm":118.2,"signal":233},{"spectrum":"L2","ppm":114.9,"signal":232},{"spectrum":"L2","ppm":111.6,"signal":231},{"spectrum":"L2","ppm":109.2,"signal":234},{"spectrum":"L2","ppm":107.5,"signal":251},{"spectrum":"L2","ppm":105.1,"signal":271},{"spectrum":"L2","ppm":103.1,"signal":282},{"spectrum":"L2","ppm":101,"signal":278},{"spectrum":"L2","ppm":98.5,"signal":263},{"spectrum":"L2","ppm":96,"signal":251},{"spectrum":"L2","ppm":93.6,"signal":243},{"spectrum":"L2","ppm":91.9,"signal":236},{"spectrum":"L2","ppm":90.3,"signal":239},{"spectrum":"L2","ppm":87.8,"signal":254},{"spectrum":"L2","ppm":85.4,"signal":278},{"spectrum":"L2","ppm":82.9,"signal":308},{"spectrum":"L2","ppm":80.4,"signal":344},{"spectrum":"L2","ppm":78,"signal":374},{"spectrum":"L2","ppm":75.5,"signal":394},{"spectrum":"L2","ppm":73,"signal":401},{"spectrum":"L2","ppm":71.4,"signal":391},{"spectrum":"L2","ppm":69.8,"signal":358},{"spectrum":"L2","ppm":68.1,"signal":321},{"spectrum":"L2","ppm":66.5,"signal":286},{"spectrum":"L2","ppm":64.8,"signal":291},{"spectrum":"L2","ppm":63.2,"signal":296},{"spectrum":"L2","ppm":61.5,"signal":289},{"spectrum":"L2","ppm":59.1,"signal":284},{"spectrum":"L2","ppm":56.6,"signal":291},{"spectrum":"L2","ppm":54.2,"signal":294},{"spectrum":"L2","ppm":51.7,"signal":291},{"spectrum":"L2","ppm":49.2,"signal":274},{"spectrum":"L2","ppm":47.6,"signal":263},{"spectrum":"L2","ppm":45.9,"signal":268},{"spectrum":"L2","ppm":43.5,"signal":274},{"spectrum":"L2","ppm":41,"signal":274},{"spectrum":"L2","ppm":38.6,"signal":271},{"spectrum":"L2","ppm":36.1,"signal":272},{"spectrum":"L2","ppm":33.6,"signal":273},{"spectrum":"L2","ppm":31.2,"signal":271},{"spectrum":"L2","ppm":28.7,"signal":266},{"spectrum":"L2","ppm":26.2,"signal":274},{"spectrum":"L2","ppm":24.9,"signal":277},{"spectrum":"L2","ppm":23.8,"signal":268},{"spectrum":"L2","ppm":22.1,"signal":258},{"spectrum":"L2","ppm":19.7,"signal":256},{"spectrum":"L2","ppm":17.2,"signal":254},{"spectrum":"L2","ppm":15.6,"signal":244},{"spectrum":"L2","ppm":13.9,"signal":236},{"spectrum":"L2","ppm":13.1,"signal":234},{"spectrum":"L2","ppm":10.6,"signal":229},{"spectrum":"L2","ppm":8.2,"signal":228},{"spectrum":"L2","ppm":4.9,"signal":228},{"spectrum":"L2","ppm":1.6,"signal":227},{"spectrum":"L2","ppm":-1.7,"signal":228},{"spectrum":"L2","ppm":-5,"signal":226},{"spectrum":"L2","ppm":-8.2,"signal":227},{"spectrum":"L2","ppm":-11.5,"signal":228},{"spectrum":"L2","ppm":-14.8,"signal":226},{"spectrum":"L2","ppm":-18.1,"signal":227},{"spectrum":"L2","ppm":-20,"signal":228},
{"spectrum":"W1","ppm":220,"signal":90},{"spectrum":"W1","ppm":218.4,"signal":93},{"spectrum":"W1","ppm":216.7,"signal":97},{"spectrum":"W1","ppm":214.3,"signal":95},{"spectrum":"W1","ppm":211,"signal":96},{"spectrum":"W1","ppm":207.7,"signal":99},{"spectrum":"W1","ppm":204.4,"signal":103},{"spectrum":"W1","ppm":201.1,"signal":104},{"spectrum":"W1","ppm":198.7,"signal":106},{"spectrum":"W1","ppm":197,"signal":109},{"spectrum":"W1","ppm":195.4,"signal":106},{"spectrum":"W1","ppm":192.9,"signal":104},{"spectrum":"W1","ppm":190.4,"signal":104},{"spectrum":"W1","ppm":188,"signal":104},{"spectrum":"W1","ppm":186.3,"signal":104},{"spectrum":"W1","ppm":184.7,"signal":114},{"spectrum":"W1","ppm":183.1,"signal":134},{"spectrum":"W1","ppm":181.4,"signal":164},{"spectrum":"W1","ppm":179.8,"signal":188},{"spectrum":"W1","ppm":177.6,"signal":203},{"spectrum":"W1","ppm":175.7,"signal":208},{"spectrum":"W1","ppm":174,"signal":206},{"spectrum":"W1","ppm":172.4,"signal":191},{"spectrum":"W1","ppm":170.7,"signal":164},{"spectrum":"W1","ppm":169.1,"signal":138},{"spectrum":"W1","ppm":167.5,"signal":133},{"spectrum":"W1","ppm":165.5,"signal":126},{"spectrum":"W1","ppm":163.4,"signal":114},{"spectrum":"W1","ppm":161.7,"signal":121},{"spectrum":"W1","ppm":160.1,"signal":125},{"spectrum":"W1","ppm":157.6,"signal":123},{"spectrum":"W1","ppm":155.1,"signal":126},{"spectrum":"W1","ppm":153.5,"signal":131},{"spectrum":"W1","ppm":151.9,"signal":133},{"spectrum":"W1","ppm":149.4,"signal":131},{"spectrum":"W1","ppm":146.9,"signal":129},{"spectrum":"W1","ppm":144.5,"signal":126},{"spectrum":"W1","ppm":142,"signal":124},{"spectrum":"W1","ppm":140.4,"signal":131},{"spectrum":"W1","ppm":138.7,"signal":143},{"spectrum":"W1","ppm":136.3,"signal":147},{"spectrum":"W1","ppm":133.8,"signal":144},{"spectrum":"W1","ppm":131.3,"signal":149},{"spectrum":"W1","ppm":128.9,"signal":154},{"spectrum":"W1","ppm":127.2,"signal":152},{"spectrum":"W1","ppm":124.8,"signal":153},{"spectrum":"W1","ppm":123.1,"signal":148},{"spectrum":"W1","ppm":121.5,"signal":144},{"spectrum":"W1","ppm":119,"signal":142},{"spectrum":"W1","ppm":116.6,"signal":143},{"spectrum":"W1","ppm":114.9,"signal":140},{"spectrum":"W1","ppm":112.4,"signal":141},{"spectrum":"W1","ppm":110.8,"signal":142},{"spectrum":"W1","ppm":108.3,"signal":144},{"spectrum":"W1","ppm":105.9,"signal":141},{"spectrum":"W1","ppm":103.4,"signal":138},{"spectrum":"W1","ppm":101,"signal":135},{"spectrum":"W1","ppm":98.5,"signal":134},{"spectrum":"W1","ppm":96,"signal":134},{"spectrum":"W1","ppm":93.6,"signal":132},{"spectrum":"W1","ppm":91.1,"signal":136},{"spectrum":"W1","ppm":88.6,"signal":144},{"spectrum":"W1","ppm":86.2,"signal":153},{"spectrum":"W1","ppm":83.7,"signal":163},{"spectrum":"W1","ppm":81.3,"signal":176},{"spectrum":"W1","ppm":78.8,"signal":191},{"spectrum":"W1","ppm":77.1,"signal":198},{"spectrum":"W1","ppm":74.7,"signal":199},{"spectrum":"W1","ppm":72.2,"signal":202},{"spectrum":"W1","ppm":70.9,"signal":198},{"spectrum":"W1","ppm":68.9,"signal":186},{"spectrum":"W1","ppm":67.3,"signal":184},{"spectrum":"W1","ppm":64.8,"signal":186},{"spectrum":"W1","ppm":62.4,"signal":187},{"spectrum":"W1","ppm":59.9,"signal":191},{"spectrum":"W1","ppm":57.4,"signal":198},{"spectrum":"W1","ppm":55.8,"signal":194},{"spectrum":"W1","ppm":53.3,"signal":201},{"spectrum":"W1","ppm":51.7,"signal":198},{"spectrum":"W1","ppm":49.2,"signal":198},{"spectrum":"W1","ppm":46.8,"signal":204},{"spectrum":"W1","ppm":44.3,"signal":211},{"spectrum":"W1","ppm":42.7,"signal":215},{"spectrum":"W1","ppm":40.2,"signal":222},{"spectrum":"W1","ppm":38.2,"signal":233},{"spectrum":"W1","ppm":36.6,"signal":247},{"spectrum":"W1","ppm":35.2,"signal":262},{"spectrum":"W1","ppm":34,"signal":274},{"spectrum":"W1","ppm":33,"signal":282},{"spectrum":"W1","ppm":32,"signal":285},{"spectrum":"W1","ppm":31,"signal":283},{"spectrum":"W1","ppm":30,"signal":274},{"spectrum":"W1","ppm":29,"signal":260},{"spectrum":"W1","ppm":27.6,"signal":242},{"spectrum":"W1","ppm":26.1,"signal":226},{"spectrum":"W1","ppm":24.6,"signal":208},{"spectrum":"W1","ppm":22.1,"signal":184},{"spectrum":"W1","ppm":19.7,"signal":161},{"spectrum":"W1","ppm":17.2,"signal":148},{"spectrum":"W1","ppm":14.7,"signal":134},{"spectrum":"W1","ppm":12.3,"signal":121},{"spectrum":"W1","ppm":9.8,"signal":108},{"spectrum":"W1","ppm":6.5,"signal":98},{"spectrum":"W1","ppm":4.1,"signal":96},{"spectrum":"W1","ppm":0.8,"signal":96},{"spectrum":"W1","ppm":-1.7,"signal":94},{"spectrum":"W1","ppm":-4.1,"signal":93},{"spectrum":"W1","ppm":-6.6,"signal":91},{"spectrum":"W1","ppm":-9.1,"signal":92},{"spectrum":"W1","ppm":-11.5,"signal":89},{"spectrum":"W1","ppm":-14,"signal":92},{"spectrum":"W1","ppm":-16.5,"signal":87},{"spectrum":"W1","ppm":-18.9,"signal":89},{"spectrum":"W1","ppm":-20,"signal":90},
{"spectrum":"W2","ppm":220,"signal":29},{"spectrum":"W2","ppm":216.7,"signal":30},{"spectrum":"W2","ppm":213.4,"signal":33},{"spectrum":"W2","ppm":210.1,"signal":34},{"spectrum":"W2","ppm":206.9,"signal":36},{"spectrum":"W2","ppm":204.4,"signal":38},{"spectrum":"W2","ppm":201.9,"signal":36},{"spectrum":"W2","ppm":199.5,"signal":37},{"spectrum":"W2","ppm":197,"signal":37},{"spectrum":"W2","ppm":194.5,"signal":36},{"spectrum":"W2","ppm":192.1,"signal":33},{"spectrum":"W2","ppm":189.6,"signal":30},{"spectrum":"W2","ppm":187.2,"signal":31},{"spectrum":"W2","ppm":185.8,"signal":38},{"spectrum":"W2","ppm":184.2,"signal":68},{"spectrum":"W2","ppm":182.2,"signal":101},{"spectrum":"W2","ppm":180.3,"signal":124},{"spectrum":"W2","ppm":178.1,"signal":138},{"spectrum":"W2","ppm":177,"signal":142},{"spectrum":"W2","ppm":175.7,"signal":138},{"spectrum":"W2","ppm":174,"signal":121},{"spectrum":"W2","ppm":172.4,"signal":94},{"spectrum":"W2","ppm":170.7,"signal":68},{"spectrum":"W2","ppm":169.1,"signal":51},{"spectrum":"W2","ppm":167.5,"signal":42},{"spectrum":"W2","ppm":165,"signal":39},{"spectrum":"W2","ppm":162.5,"signal":37},{"spectrum":"W2","ppm":160.1,"signal":38},{"spectrum":"W2","ppm":157.6,"signal":38},{"spectrum":"W2","ppm":155.1,"signal":39},{"spectrum":"W2","ppm":152.7,"signal":38},{"spectrum":"W2","ppm":150.2,"signal":41},{"spectrum":"W2","ppm":147.8,"signal":39},{"spectrum":"W2","ppm":145.3,"signal":42},{"spectrum":"W2","ppm":142.8,"signal":44},{"spectrum":"W2","ppm":140.4,"signal":46},{"spectrum":"W2","ppm":137.9,"signal":48},{"spectrum":"W2","ppm":135.4,"signal":49},{"spectrum":"W2","ppm":133,"signal":53},{"spectrum":"W2","ppm":131.3,"signal":55},{"spectrum":"W2","ppm":128.9,"signal":54},{"spectrum":"W2","ppm":126.4,"signal":51},{"spectrum":"W2","ppm":123.9,"signal":49},{"spectrum":"W2","ppm":121.5,"signal":48},{"spectrum":"W2","ppm":118.2,"signal":48},{"spectrum":"W2","ppm":114.9,"signal":48},{"spectrum":"W2","ppm":111.6,"signal":48},{"spectrum":"W2","ppm":109.2,"signal":51},{"spectrum":"W2","ppm":106.7,"signal":64},{"spectrum":"W2","ppm":104.2,"signal":76},{"spectrum":"W2","ppm":101.8,"signal":76},{"spectrum":"W2","ppm":99.3,"signal":73},{"spectrum":"W2","ppm":96.8,"signal":64},{"spectrum":"W2","ppm":94.4,"signal":61},{"spectrum":"W2","ppm":91.9,"signal":59},{"spectrum":"W2","ppm":90,"signal":63},{"spectrum":"W2","ppm":87.8,"signal":71},{"spectrum":"W2","ppm":85.4,"signal":88},{"spectrum":"W2","ppm":82.9,"signal":111},{"spectrum":"W2","ppm":80.4,"signal":131},{"spectrum":"W2","ppm":78,"signal":149},{"spectrum":"W2","ppm":76.3,"signal":164},{"spectrum":"W2","ppm":74.7,"signal":174},{"spectrum":"W2","ppm":73,"signal":177},{"spectrum":"W2","ppm":71.9,"signal":174},{"spectrum":"W2","ppm":70.6,"signal":158},{"spectrum":"W2","ppm":68.9,"signal":134},{"spectrum":"W2","ppm":67.3,"signal":109},{"spectrum":"W2","ppm":65.7,"signal":103},{"spectrum":"W2","ppm":64,"signal":108},{"spectrum":"W2","ppm":62.4,"signal":108},{"spectrum":"W2","ppm":60.7,"signal":103},{"spectrum":"W2","ppm":59.1,"signal":109},{"spectrum":"W2","ppm":56.6,"signal":116},{"spectrum":"W2","ppm":54.2,"signal":120},{"spectrum":"W2","ppm":51.7,"signal":123},{"spectrum":"W2","ppm":50,"signal":118},{"spectrum":"W2","ppm":48.4,"signal":113},{"spectrum":"W2","ppm":46.8,"signal":119},{"spectrum":"W2","ppm":44.3,"signal":126},{"spectrum":"W2","ppm":41.8,"signal":131},{"spectrum":"W2","ppm":39.4,"signal":134},{"spectrum":"W2","ppm":36.9,"signal":135},{"spectrum":"W2","ppm":34.4,"signal":134},{"spectrum":"W2","ppm":32,"signal":135},{"spectrum":"W2","ppm":30.3,"signal":131},{"spectrum":"W2","ppm":28.7,"signal":123},{"spectrum":"W2","ppm":26.2,"signal":116},{"spectrum":"W2","ppm":23.8,"signal":108},{"spectrum":"W2","ppm":21.3,"signal":94},{"spectrum":"W2","ppm":18.8,"signal":83},{"spectrum":"W2","ppm":16.7,"signal":74},{"spectrum":"W2","ppm":14.7,"signal":59},{"spectrum":"W2","ppm":12.3,"signal":44},{"spectrum":"W2","ppm":9.8,"signal":36},{"spectrum":"W2","ppm":6.5,"signal":31},{"spectrum":"W2","ppm":3.3,"signal":29},{"spectrum":"W2","ppm":0,"signal":28},{"spectrum":"W2","ppm":-3,"signal":32},{"spectrum":"W2","ppm":-5,"signal":28},{"spectrum":"W2","ppm":-7.4,"signal":26},{"spectrum":"W2","ppm":-9.9,"signal":28},{"spectrum":"W2","ppm":-13.2,"signal":27},{"spectrum":"W2","ppm":-16.5,"signal":26},{"spectrum":"W2","ppm":-18.9,"signal":28},{"spectrum":"W2","ppm":-20,"signal":29}
],
"labels": [
{"label":"Gebesee","ppm":220,"signal":984},{"label":"0-5 cm","ppm":220,"signal":924},{"label":"30-40 cm","ppm":220,"signal":845},
{"label":"Hainich","ppm":220,"signal":768},{"label":"0-5 cm","ppm":220,"signal":724},{"label":"30-40 cm","ppm":220,"signal":659},
{"label":"Hesse","ppm":220,"signal":585},{"label":"0-5 cm","ppm":220,"signal":533},{"label":"30-40 cm","ppm":220,"signal":469},
{"label":"Laqueuille","ppm":220,"signal":388},{"label":"0-5 cm","ppm":220,"signal":328},{"label":"30-40 cm","ppm":220,"signal":248},
{"label":"Wetzstein","ppm":220,"signal":178},{"label":"0-10 cm","ppm":220,"signal":131},{"label":"30-50 cm","ppm":220,"signal":68}
]
},
"layer": [
{
"data": {"name": "spectra"},
"mark": {"type": "line", "color": "#111111", "strokeWidth": 2, "interpolate": "monotone"},
"encoding": {
"x": {"field": "ppm", "type": "quantitative",
"scale": {"domain": [-20, 220], "reverse": true, "nice": false, "zero": false},
"axis": {"values": [220,200,180,160,140,120,100,80,60,40,20,0,-20], "labelExpr": "'' + datum.value",
"title": "Chemical shift / ppm", "grid": false, "domainColor": "black", "domainWidth": 1.5,
"tickColor": "black", "tickWidth": 1.5, "tickSize": 8, "labelColor": "#222222", "labelFontSize": 17,
"labelPadding": 10, "labelFont": "Liberation Sans", "labelFlush": false, "labelOverlap": false,
"titleFont": "Liberation Sans", "titleFontSize": 20, "titleFontWeight": "normal", "titleColor": "#222222", "titlePadding": 17}},
"y": {"field": "signal", "type": "quantitative", "scale": {"domain": [0, 1061], "nice": false, "zero": false}, "axis": null},
"detail": {"field": "spectrum", "type": "nominal"}
}
},
{
"data": {"name": "labels"},
"mark": {"type": "text", "align": "left", "baseline": "middle", "fontSize": 20, "dx": -2, "color": "#222222", "font": "Liberation Sans"},
"encoding": {
"x": {"field": "ppm", "type": "quantitative"},
"y": {"field": "signal", "type": "quantitative"},
"text": {"field": "label", "type": "nominal"}
}
}
]
}
